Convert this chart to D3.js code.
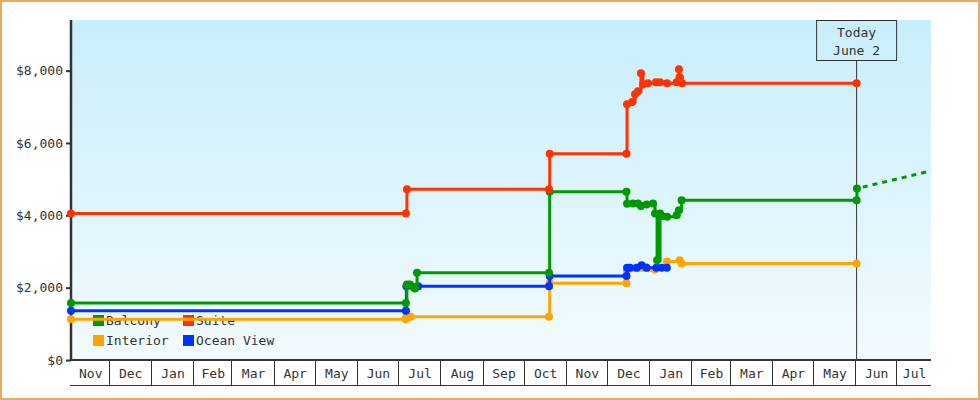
<!DOCTYPE html>
<html><head><meta charset="utf-8">
<script src="https://cdn.jsdelivr.net/npm/d3@7"></script>
<style>
body{margin:0;background:#fff}
svg{display:block}
text{font-family:"DejaVu Sans Mono","Liberation Mono",monospace;font-size:13px;fill:#333}
</style>
</head><body>
<svg id="c" width="980" height="400"></svg>
<script>
// ---------- data ----------
const seriesNames  = ["Interior", "Ocean View", "Balcony", "Suite"];
const seriesColors = ["#ffa500", "#0033ff", "#009900", "#ff3300"];
const legendOrder  = ["Balcony", "Suite", "Interior", "Ocean View"];

const interior = [
  ["2009-11-03T12:00", 1125], ["2010-07-06T20:00", 1125], ["2010-07-07T04:00", 1195],
  ["2010-07-10T12:00", 1195], ["2010-10-19T16:00", 1195], ["2010-10-20T04:00", 2120],
  ["2010-12-15T10:00", 2120], ["2010-12-15T20:00", 2480], ["2011-01-05T08:00", 2500],
  ["2011-01-14T04:00", 2720], ["2011-01-23T08:00", 2760], ["2011-01-24T20:00", 2670],
  ["2011-06-02T00:00", 2670]
];
const oceanView = [
  ["2009-11-03T12:00", 1360], ["2010-07-06T20:00", 1360], ["2010-07-07T04:00", 2040],
  ["2010-07-15T20:00", 2040], ["2010-10-19T16:00", 2040], ["2010-10-20T04:00", 2320],
  ["2010-12-15T10:00", 2320], ["2010-12-15T20:00", 2550], ["2010-12-18T00:00", 2550],
  ["2010-12-22T20:00", 2550], ["2010-12-26T12:00", 2620], ["2010-12-30T04:00", 2550],
  ["2011-01-06T08:00", 2550], ["2011-01-10T04:00", 2550], ["2011-01-14T00:00", 2550]
];
const balcony = [
  ["2009-11-03T12:00", 1575], ["2010-07-06T20:00", 1575], ["2010-07-07T14:00", 2090],
  ["2010-07-09T20:00", 2090], ["2010-07-12T00:00", 2020], ["2010-07-13T12:00", 1980],
  ["2010-07-15T00:00", 2410], ["2010-10-19T16:00", 2410], ["2010-10-20T04:00", 4650],
  ["2010-12-15T10:00", 4650], ["2010-12-15T20:00", 4320], ["2010-12-20T04:00", 4330],
  ["2010-12-23T20:00", 4330], ["2010-12-26T00:00", 4260], ["2010-12-30T04:00", 4300],
  ["2011-01-03T20:00", 4330], ["2011-01-05T08:00", 4050], ["2011-01-06T20:00", 2760],
  ["2011-01-09T00:00", 4050], ["2011-01-10T08:00", 3980], ["2011-01-14T04:00", 3960],
  ["2011-01-21T04:00", 4000], ["2011-01-22T20:00", 4140], ["2011-01-24T20:00", 4420],
  ["2011-06-02T00:00", 4420], ["2011-06-02T06:00", 4740]
];
const suite = [
  ["2009-11-03T12:00", 4050], ["2010-07-06T20:00", 4050], ["2010-07-07T14:00", 4720],
  ["2010-10-19T16:00", 4720], ["2010-10-20T04:00", 5700], ["2010-12-15T10:00", 5700],
  ["2010-12-15T20:00", 7070], ["2010-12-19T12:00", 7130], ["2010-12-21T16:00", 7350],
  ["2010-12-23T20:00", 7430], ["2010-12-26T00:00", 7930], ["2010-12-27T12:00", 7620],
  ["2010-12-31T04:00", 7650], ["2011-01-06T00:00", 7680], ["2011-01-09T00:00", 7680],
  ["2011-01-14T04:00", 7650], ["2011-01-21T04:00", 7680], ["2011-01-22T20:00", 8040],
  ["2011-01-23T08:00", 7820], ["2011-01-25T04:00", 7650], ["2011-06-02T00:00", 7650]
];
const balconyProjection = [["2011-06-02T06:00", 4740], ["2011-07-26T12:00", 5230]];

const xDomain   = ["2009-11-03T12:00", "2011-07-26T12:00"];
const yMax      = 9400;
const yTicks    = [0, 2000, 4000, 6000, 8000];
const todayDate = "2011-06-02T00:00";
const todayText = ["Today", "June 2"];

// ---------- drawing ----------
const parse = d3.timeParse("%Y-%m-%dT%H:%M");
const svg = d3.select("#c");
const W = 980, H = 400;
const m = {left: 71, right: 931, top: 20, bottom: 360};

const x = d3.scaleTime().domain(xDomain.map(parse)).range([m.left, m.right]);
const y = d3.scaleLinear().domain([0, yMax]).range([m.bottom, m.top]);

const defs = svg.append("defs");
const grad = defs.append("linearGradient").attr("id", "bg")
  .attr("x1", 0).attr("y1", 0).attr("x2", 0).attr("y2", 1);
grad.append("stop").attr("offset", "0%").attr("stop-color", "#c8eefb");
grad.append("stop").attr("offset", "100%").attr("stop-color", "#f3fbfe");

// frame
svg.append("rect").attr("x", 1).attr("y", 1).attr("width", W - 2).attr("height", H - 2)
  .attr("fill", "#fff").attr("stroke", "#e8aa66").attr("stroke-width", 2);

// plot background
svg.append("rect").attr("x", m.left).attr("y", m.top)
  .attr("width", m.right - m.left).attr("height", m.bottom - m.top)
  .attr("fill", "url(#bg)");

// legend (under the lines)
const legendByName = {};
seriesNames.forEach((n, i) => legendByName[n] = seriesColors[i]);
const lg = svg.append("g").attr("transform", "translate(93,315)");
legendOrder.forEach((n, i) => {
  const gx = (i % 2) * 90, gy = Math.floor(i / 2) * 20;
  lg.append("rect").attr("x", gx).attr("y", gy).attr("width", 11).attr("height", 11)
    .attr("fill", legendByName[n]);
  lg.append("text").attr("x", gx + 13).attr("y", gy + 10).text(n);
});

// month bands on x axis
const d0 = x.domain()[0], d1 = x.domain()[1];
const monthStarts = d3.timeMonth.range(d3.timeMonth.ceil(d0), d1);
const bounds = [d0, ...monthStarts, d1];
const axisG = svg.append("g");
axisG.append("line").attr("x1", m.left - 1).attr("x2", m.right).attr("y1", 385.5).attr("y2", 385.5)
  .attr("stroke", "#333").attr("stroke-width", 1);
monthStarts.forEach(d => {
  const px = Math.round(x(d)) + 0.5;
  axisG.append("line").attr("x1", px).attr("x2", px).attr("y1", m.bottom).attr("y2", 385.5)
    .attr("stroke", "#333").attr("stroke-width", 1);
});
const fmtMonth = d3.timeFormat("%b");
for (let i = 0; i < bounds.length - 1; i++) {
  const a = x(bounds[i]), b = x(bounds[i + 1]);
  const mid = bounds[i].getTime() === d0.getTime() ? d3.timeMonth.floor(d0) : bounds[i];
  axisG.append("text").attr("x", (a + b) / 2 + 1).attr("y", 378)
    .attr("text-anchor", "middle").text(fmtMonth(mid));
}
axisG.append("line").attr("x1", m.left - 1).attr("x2", m.right).attr("y1", m.bottom).attr("y2", m.bottom)
  .attr("stroke", "#333").attr("stroke-width", 2);

// y axis
const yAxis = d3.axisLeft(y).tickValues(yTicks).tickSize(5).tickPadding(3)
  .tickFormat(d3.format("$,.0f"));
const yg = svg.append("g").attr("transform", `translate(${m.left},0)`).call(yAxis);
yg.select(".domain").remove();
yg.selectAll(".tick line").attr("stroke", "#333").attr("stroke-width", 2);
yg.selectAll(".tick text").attr("fill", "#333").style("font-size", "13px")
  .style("font-family", '"DejaVu Sans Mono","Liberation Mono",monospace');
svg.append("line").attr("x1", m.left).attr("x2", m.left).attr("y1", m.top).attr("y2", m.bottom + 1)
  .attr("stroke", "#333").attr("stroke-width", 2.5);

// today marker
const tx = x(parse(todayDate));
svg.append("line").attr("x1", tx).attr("x2", tx).attr("y1", 60).attr("y2", m.bottom)
  .attr("stroke", "#333").attr("stroke-width", 1);
svg.append("rect").attr("x", tx - 40).attr("y", m.top + 0.5).attr("width", 80).attr("height", 40)
  .attr("fill", "none").attr("stroke", "#333").attr("stroke-width", 1);
todayText.forEach((t, i) => {
  svg.append("text").attr("x", tx).attr("y", 37 + i * 18).attr("text-anchor", "middle").text(t);
});

// series
const allSeries = [interior, oceanView, balcony, suite];
const line = d3.line().x(d => x(parse(d[0]))).y(d => y(d[1])).curve(d3.curveStepAfter);
const plot = svg.append("g");

// projection dashed line
plot.append("path").datum(balconyProjection)
  .attr("d", d3.line().x(d => x(parse(d[0]))).y(d => y(d[1])))
  .attr("fill", "none").attr("stroke", seriesColors[2]).attr("stroke-width", 3)
  .attr("stroke-dasharray", "5,5").attr("stroke-dashoffset", -6);

allSeries.forEach((s, i) => {
  const g = plot.append("g");
  g.append("path").datum(s).attr("d", line)
    .attr("fill", "none").attr("stroke", seriesColors[i]).attr("stroke-width", 3);
  g.selectAll("circle").data(s).join("circle")
    .attr("cx", d => x(parse(d[0]))).attr("cy", d => y(d[1])).attr("r", 4)
    .attr("fill", seriesColors[i]);
});
</script>
</body></html>
